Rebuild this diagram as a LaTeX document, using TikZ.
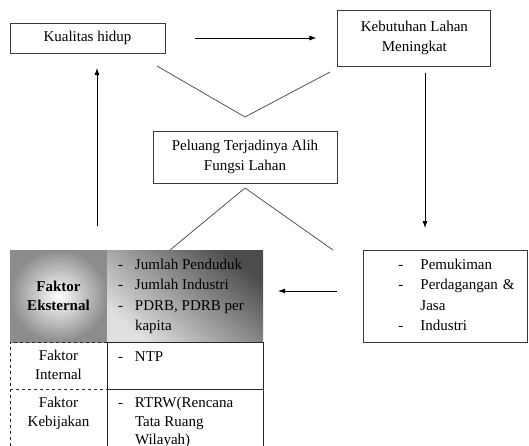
\documentclass[tikz,border=0pt]{standalone}
\usepackage{fontspec}
\setmainfont{Liberation Serif}
\usepackage{tikz}
\usetikzlibrary{arrows.meta,positioning}
\definecolor{Frame}{HTML}{3A3A3A}
\definecolor{Wedge}{HTML}{555555}
\tikzset{
  textbox/.style={draw=Frame, line width=0.9pt, align=center, inner sep=0pt},
  cell/.style={inner sep=0pt, outer sep=0pt},
  solidcell/.style={cell, draw=black!85, line width=0.8pt},
  dashline/.style={draw=black!85, dashed, line width=0.8pt},
  arrow/.style={-{Latex[length=7pt,width=5pt]}, line width=0.8pt, draw=black},
  wedge/.style={line width=0.8pt, draw=Wedge}
}
\newcommand{\cellpar}[4]{\parbox[c][#2][#3]{#1}{#4}}
\newcommand{\listpar}[2]{\begin{tabular}[t]{@{}p{#1}@{}l@{}}#2\end{tabular}}
\newcommand{\tightlines}{\fontsize{15}{18.5}\selectfont}

\begin{document}
\begin{tikzpicture}[x=1pt, y=-1pt, font=\fontsize{15}{20.5}\selectfont]
  \useasboundingbox (0,0) rectangle (529,445);
  \clip (0,0) rectangle (529,445);

  \node[textbox, minimum width=155pt, minimum height=30pt] (kualitas) at (87.5,38) {Kualitas hidup};
  \node[textbox, minimum width=153pt, minimum height=56pt, right=172pt of kualitas] (kebutuhan) {Kebutuhan Lahan\\Meningkat};
  \node[textbox, minimum width=184pt, minimum height=52pt] (peluang) at (245,157) {Peluang Terjadinya Alih\\Fungsi Lahan};

  % tabel faktor
  \node[cell, anchor=north west, inner color=white, outer color=black!45] (ekskey) at (10,250)
    {\cellpar{97pt}{92pt}{c}{\centering\tightlines\bfseries Faktor\\Eksternal}};
  \node[cell, right=0pt of ekskey, top color=black!70, bottom color=black!12, shading angle=-40] (eksval)
    {\cellpar{156pt}{92pt}{t}{\vspace*{5pt}\hspace*{11pt}\listpar{17pt}{- & Jumlah Penduduk\\ - & Jumlah Industri\\ - & PDRB, PDRB per\\ & kapita}}};
  \node[cell, below=0pt of ekskey] (intkey)
    {\cellpar{97pt}{47pt}{t}{\tightlines\vspace*{6pt}\centering\strut Faktor\\Internal}};
  \node[cell, below=0pt of intkey] (kebkey)
    {\cellpar{97pt}{71pt}{t}{\tightlines\vspace*{6pt}\centering\strut Faktor\\Kebijakan}};
  \draw[dashline] (intkey.north east) -- (intkey.north west) -- (kebkey.south west);
  \draw[dashline] (kebkey.north west) -- (kebkey.north east);
  \node[solidcell, right=0pt of intkey] (intval)
    {\cellpar{156pt}{47pt}{t}{\vspace*{5pt}\hspace*{11pt}\listpar{17pt}{- & NTP}}};
  \node[solidcell, right=0pt of kebkey] (kebval)
    {\cellpar{156pt}{71pt}{t}{\tightlines\vspace*{6pt}\hspace*{11pt}\listpar{17pt}{- & RTRW(Rencana\\ & Tata Ruang\\ & Wilayah)}}};

  \node[textbox, minimum width=164pt, minimum height=92pt, text width=164pt, align=left, right=100pt of eksval] (guna)
    {\hspace*{35pt}\listpar{22pt}{- & Pemukiman\\ - & Perdagangan \&\\ & Jasa\\ - & Industri}};

  \coordinate (wedgeL) at (157,66);
  \coordinate (wedgeB) at (245,117);
  \coordinate (wedgeR) at (330,72);
  \coordinate (peakT) at (245,188);
  \coordinate (peakL) at (170,250);
  \coordinate (peakR) at (333,250);
  \coordinate (riseA) at (97,226);
  \coordinate (riseB) at (97,68);
  \coordinate (dropA) at (425,73);
  \coordinate (dropB) at (425,228);
  \coordinate (backA) at (337,291);
  \coordinate (backB) at (278,291);

  \draw[arrow, shorten <=30pt, shorten >=21pt] (kualitas) -- (kebutuhan);
  \draw[wedge] (wedgeL) -- (wedgeB) -- (wedgeR);
  \draw[wedge] (peakL) -- (peakT) -- (peakR);
  \draw[arrow] (riseA) -- (riseB);
  \draw[arrow] (dropA) -- (dropB);
  \draw[arrow] (backA) -- (backB);
\end{tikzpicture}
\end{document}
